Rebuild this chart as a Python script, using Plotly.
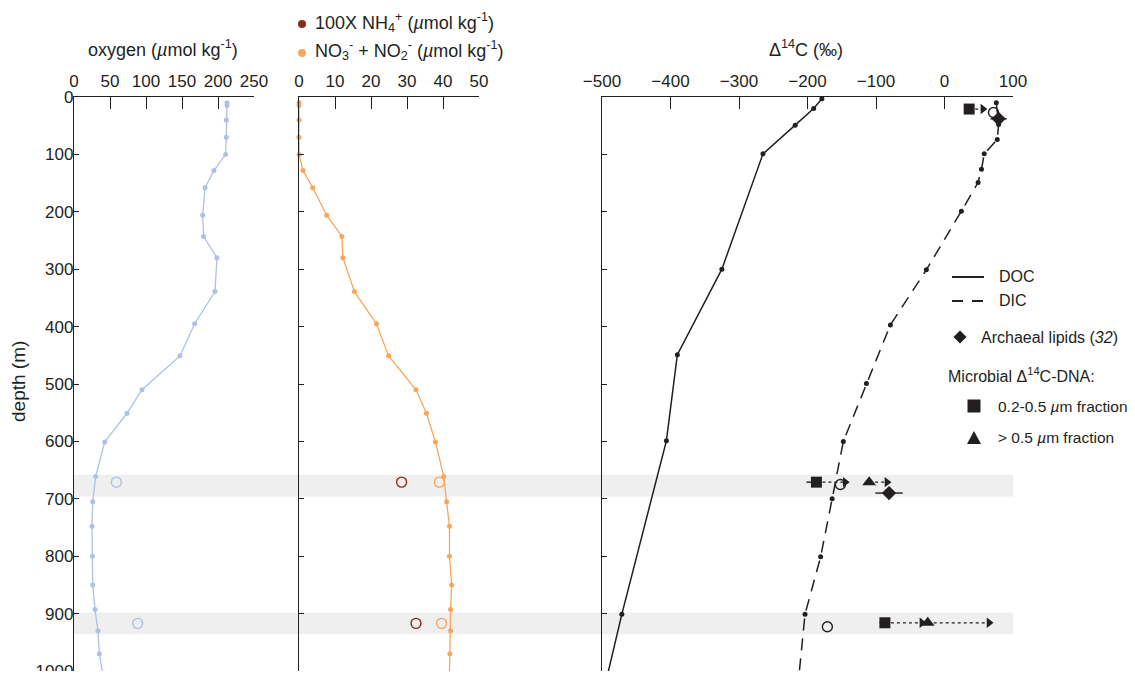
import plotly.graph_objects as go

# page body adds an 8 px margin on every side; work in screen pixels and shift
OFF = 8
W, H = 1135 - 2 * OFF, 679 - 2 * OFF
def px(x): return (x - OFF) / W
def py(y): return max(0.0, min(1.0, 1 - (y - OFF) / H))

FONT = "Liberation Sans, Arial, Helvetica, sans-serif"
INK = "#231f20"
BLUE = "#afc0e6"
ORANGE = "#f7a65a"
DARKRED = "#8c2b1a"
BAND = "#efefef"

# ---------------- data ----------------
profile_depth = [10, 15, 40, 70, 100, 128, 158, 206, 243, 280, 339, 395, 451, 510,
                 551, 601, 661, 705, 748, 800, 850, 893, 930, 970, 1001]
oxygen = [212.5, 212.5, 211.5, 211.5, 210.6, 194.4, 182, 178.7, 180, 198.6, 195.8,
          167.6, 147.2, 94.4, 73.6, 42.6, 30.1, 26, 25, 25.5, 26, 29.2, 33.3, 35.2, 39.3]
nitrate = [0, 0, 0, 0, 0, 1.1, 3.8, 7.7, 11.9, 12.2, 15.4, 21.5, 24.9, 32.5, 35.4,
           37.9, 40.2, 41.0, 41.8, 41.8, 42.4, 42.1, 42.1, 41.9, 41.8]

sample_depth = [671, 917]
oxygen_sample = [58.8, 88.4]
nh4_x100_sample = [28.5, 32.5]
nitrate_sample = [39.0, 39.6]

band_top = [658, 898]
band_bottom = [696, 936]

doc_depth = [3, 20, 49, 99, 300, 449, 599, 901, 1002]
doc_d14c = [-179, -191, -218, -265, -325, -390, -406, -471, -491]

dic_depth = [10, 48, 74, 99, 126, 149, 199, 301, 397, 499, 600, 700, 801, 901, 1002]
dic_d14c = [75.6, 79, 77, 58, 54, 49, 24.6, -26.5, -79, -114, -147.7, -164, -180.8,
            -203.6, -212]

open_depth = [27, 675, 923]
open_d14c = [71.5, -152, -171]

lipid_depth = [38, 690]
lipid_d14c = [79, -81]
lipid_err = [12, 20]

small_depth = [21, 671, 916]
small_d14c = [36, -187, -87]
small_err_minus = [0, 14.6, 8]
small_arrow_end = [56, -145, -33]

large_depth = [671, 916]
large_d14c = [-110, -24.5]
large_arrow_end = [-84, 65]

oxygen_ticks = [0, 50, 100, 150, 200, 250]
nitrate_ticks = [0, 10, 20, 30, 40, 50]
d14c_ticks = [-500, -400, -300, -200, -100, 0, 100]
depth_ticks = list(range(0, 1001, 100))

# ---------------- figure ----------------
fig = go.Figure()

# panel 1 : oxygen
fig.add_trace(go.Scatter(x=oxygen, y=profile_depth, mode="lines+markers",
                         line=dict(color=BLUE, width=1.3), marker=dict(size=5, color=BLUE),
                         xaxis="x", yaxis="y", showlegend=False, cliponaxis=False))
fig.add_trace(go.Scatter(x=oxygen_sample, y=sample_depth, mode="markers",
                         marker=dict(size=10, symbol="circle-open", color=BLUE, line=dict(width=1.4)),
                         xaxis="x", yaxis="y", showlegend=False))

# panel 2 : nutrients
fig.add_trace(go.Scatter(x=nitrate, y=profile_depth, mode="lines+markers",
                         line=dict(color=ORANGE, width=1.3), marker=dict(size=5, color=ORANGE),
                         xaxis="x2", yaxis="y2", showlegend=False, cliponaxis=False))
fig.add_trace(go.Scatter(x=nh4_x100_sample, y=sample_depth, mode="markers",
                         marker=dict(size=10, symbol="circle-open", color=DARKRED, line=dict(width=1.4)),
                         xaxis="x2", yaxis="y2", showlegend=False))
fig.add_trace(go.Scatter(x=nitrate_sample, y=sample_depth, mode="markers",
                         marker=dict(size=10, symbol="circle-open", color=ORANGE, line=dict(width=1.4)),
                         xaxis="x2", yaxis="y2", showlegend=False))

# panel 3 : radiocarbon
fig.add_trace(go.Scatter(x=doc_d14c, y=doc_depth, mode="lines+markers",
                         line=dict(color=INK, width=1.5), marker=dict(size=5, color=INK),
                         xaxis="x3", yaxis="y3", showlegend=False, cliponaxis=False))
fig.add_trace(go.Scatter(x=dic_d14c, y=dic_depth, mode="lines+markers",
                         line=dict(color=INK, width=1.5, dash="12px,8px"), marker=dict(size=5, color=INK),
                         xaxis="x3", yaxis="y3", showlegend=False, cliponaxis=False))
fig.add_trace(go.Scatter(x=open_d14c, y=open_depth, mode="markers",
                         marker=dict(size=10, symbol="circle-open", color=INK, line=dict(width=1.4)),
                         xaxis="x3", yaxis="y3", showlegend=False))

# dotted arrows (lower limits)
for v, d, e in zip(small_d14c, small_depth, small_arrow_end):
    fig.add_trace(go.Scatter(x=[v, e], y=[d, d], mode="lines",
                             line=dict(color=INK, width=1.3, dash="dot"),
                             xaxis="x3", yaxis="y3", showlegend=False))
for v, d, e in zip(large_d14c, large_depth, large_arrow_end):
    fig.add_trace(go.Scatter(x=[v, e], y=[d, d], mode="lines",
                             line=dict(color=INK, width=1.3, dash="dot"),
                             xaxis="x3", yaxis="y3", showlegend=False))
fig.add_trace(go.Scatter(x=small_arrow_end + large_arrow_end, y=small_depth + large_depth,
                         mode="markers", marker=dict(size=9, symbol="triangle-right", color=INK),
                         xaxis="x3", yaxis="y3", showlegend=False))

fig.add_trace(go.Scatter(x=small_d14c, y=small_depth, mode="markers",
                         marker=dict(size=11, symbol="square", color=INK),
                         error_x=dict(type="data", array=[0] * len(small_d14c),
                                      arrayminus=small_err_minus, width=0,
                                      color=INK, thickness=1.4),
                         xaxis="x3", yaxis="y3", showlegend=False))
fig.add_trace(go.Scatter(x=large_d14c, y=large_depth, mode="markers",
                         marker=dict(size=12, symbol="triangle-up", color=INK),
                         xaxis="x3", yaxis="y3", showlegend=False))
fig.add_trace(go.Scatter(x=lipid_d14c, y=lipid_depth, mode="markers",
                         marker=dict(size=11, symbol="diamond", color=INK),
                         error_x=dict(type="data", array=lipid_err, width=0,
                                      color=INK, thickness=1.4),
                         xaxis="x3", yaxis="y3", showlegend=False))

# gray depth bands across all panels
for t, b in zip(band_top, band_bottom):
    fig.add_shape(type="rect", xref="paper", yref="y", x0=px(74), x1=px(1013), y0=t, y1=b,
                  fillcolor=BAND, line=dict(width=0), layer="below")

tickfont = dict(family=FONT, size=17, color=INK)
common_x = dict(side="top", showgrid=False, zeroline=False, showline=True, linecolor=INK,
                linewidth=1.3, ticks="inside", ticklen=12, tickwidth=1.3, tickcolor=INK,
                tickfont=tickfont, ticklabelstandoff=2, automargin=False, fixedrange=True,
                ticklabeloverflow="allow")
common_y = dict(range=[1000, 0], showgrid=False, zeroline=False, showline=True, linecolor=INK,
                linewidth=1.3, ticks="inside", ticklen=5, tickwidth=1.3, tickcolor=INK,
                tickvals=depth_ticks, tickfont=tickfont, automargin=False,
                domain=[py(673), py(97)], fixedrange=True, ticklabeloverflow="allow")

fig.update_layout(
    width=W, height=H, margin=dict(l=0, r=0, t=0, b=0),
    paper_bgcolor="white", plot_bgcolor="rgba(0,0,0,0)",
    font=dict(family=FONT, color=INK),
    xaxis=dict(common_x, domain=[px(74), px(254)], range=[0, 250], tickvals=oxygen_ticks,
               anchor="y"),
    xaxis2=dict(common_x, domain=[px(299), px(479)], range=[0, 50], tickvals=nitrate_ticks,
                anchor="y2"),
    xaxis3=dict(common_x, domain=[px(602), px(1013)], range=[-500, 100], tickvals=d14c_ticks,
                anchor="y3"),
    yaxis=dict(common_y, anchor="x", showticklabels=True, ticklabelstandoff=-4),
    yaxis2=dict(common_y, anchor="x2", showticklabels=False, matches="y"),
    yaxis3=dict(common_y, anchor="x3", showticklabels=False, matches="y"),
)

def label(x, y, text, size=18, xanchor="center", angle=0):
    fig.add_annotation(xref="paper", yref="paper", x=px(x), y=py(y), text=text,
                       showarrow=False, xanchor=xanchor, yanchor="middle", textangle=angle,
                       font=dict(family=FONT, size=size, color=INK))

# axis titles
label(163, 48, "oxygen (<i>µ</i>mol kg<sup>-1</sup>)")
label(806, 48, "Δ<sup>14</sup>C (‰)")
label(18, 382, "depth (m)", size=19, angle=-90)

# top legend for panel 2
fig.add_shape(type="circle", xref="paper", yref="paper",
              x0=px(298), x1=px(306), y0=py(28), y1=py(20), fillcolor=DARKRED, line=dict(width=0))
fig.add_shape(type="circle", xref="paper", yref="paper",
              x0=px(298), x1=px(306), y0=py(57), y1=py(49), fillcolor=ORANGE, line=dict(width=0))
label(313, 22, "100X NH<sub>4</sub><sup>+</sup> (<i>µ</i>mol kg<sup>-1</sup>)", xanchor="left")
label(313, 51, "NO<sub>3</sub><sup>-</sup> + NO<sub>2</sub><sup>-</sup> (<i>µ</i>mol kg<sup>-1</sup>)",
      xanchor="left")

# right legend
fig.add_shape(type="line", xref="paper", yref="paper", x0=px(952), x1=px(984), y0=py(277), y1=py(277),
              line=dict(color=INK, width=2))
fig.add_shape(type="line", xref="paper", yref="paper", x0=px(952), x1=px(984), y0=py(301), y1=py(301),
              line=dict(color=INK, width=2, dash="11px,9px"))
cx, cy, r = 960, 337, 6.5
fig.add_shape(type="path", xref="paper", yref="paper",
              path=f"M {px(cx)},{py(cy - r)} L {px(cx + r)},{py(cy)} L {px(cx)},{py(cy + r)} L {px(cx - r)},{py(cy)} Z",
              fillcolor=INK, line=dict(width=0))
fig.add_shape(type="rect", xref="paper", yref="paper", x0=px(967.5), x1=px(980.5),
              y0=py(412.5), y1=py(399.5), fillcolor=INK, line=dict(width=0))
fig.add_shape(type="path", xref="paper", yref="paper",
              path=f"M {px(974)},{py(431)} L {px(981)},{py(444)} L {px(967)},{py(444)} Z",
              fillcolor=INK, line=dict(width=0))
label(997, 276, "DOC", size=16, xanchor="left")
label(997, 300, "DIC", size=16, xanchor="left")
label(979, 337, "Archaeal lipids (<i>32</i>)", size=16, xanchor="left")
label(946, 375, "Microbial Δ<sup>14</sup>C-DNA:", size=16, xanchor="left")
label(996, 406, "0.2-0.5 <i>µ</i>m fraction", size=15.5, xanchor="left")
label(996, 437, "> 0.5 <i>µ</i>m fraction", size=15.5, xanchor="left")

fig.write_html("out.html")
